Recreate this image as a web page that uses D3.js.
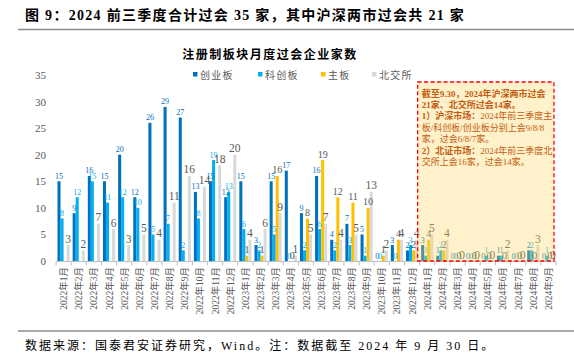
<!DOCTYPE html>
<html><head><meta charset="utf-8">
<script src="https://cdn.jsdelivr.net/npm/d3@7"></script>
<style>body{margin:0;background:#fff}svg{display:block}</style>
</head><body>
<svg id="c" width="574" height="359"></svg>
<script>
const months = ["2022年1月","2022年2月","2022年3月","2022年4月","2022年5月","2022年6月","2022年7月","2022年8月","2022年9月","2022年10月","2022年11月","2022年12月",
"2023年1月","2023年2月","2023年3月","2023年4月","2023年5月","2023年6月","2023年7月","2023年8月","2023年9月","2023年10月","2023年11月","2023年12月",
"2024年1月","2024年2月","2024年3月","2024年4月","2024年5月","2024年6月","2024年7月","2024年8月","2024年9月"];
const chuangye = [15,9,16,15,20,12,26,29,27,13,15,12, 15,3,15,17,9,16,4,7,5,0,3,2, 3,1,0,0,0,1,0,2,0];
const kechuang = [8,12,15,11,12,10,5,7,2,8,19,13, 6,2,5,0,2,6,2,3,1,0,0,3, 1,2,0,0,1,1,0,2,1];
const zhuban = [null,null,null,null,null,null,null,null,null,null,null,null, 1,1,16,0,8,19,12,11,10,1,4,2, 4,2,0,0,0,0,0,0,0];
const beijiao = [3,2,7,6,3,5,4,11,16,14,18,20, 4,6,9,1,5,7,4,5,13,2,4,4, 5,4,0,0,0,2,0,3,0];
const seriesNames = ["创业板","科创板","主板","北交所"];
const colors = ["#0070C0","#00B0F0","#FFC000","#D9D9D9"];
const labelColors = ["#0070C0","#00B0F0","#595959","#595959"];
const labelSizes = [8,8,10,11.5];
const yTicks = [0,5,10,15,20,25,30,35];
const noteLines = [
  [["截至9.30，2024年沪深两市过会",true]],
  [["21家、北交所过会14家。",true]],
  [["1）沪深市场：",true],["2024年前三季度主",false]],
  [["板/科创板/创业板分别上会9/8/8",false]],
  [["家，过会6/8/7家。",false]],
  [["2）北证市场：",true],["2024年前三季度北",false]],
  [["交所上会16家，过会14家。",false]]
];

const svg = d3.select("#c");
const serif = "'Liberation Serif','Noto Sans CJK SC',serif";
const cjk = "'Liberation Serif','Noto Sans CJK SC',sans-serif";
const series = [chuangye, kechuang, zhuban, beijiao];

// header
svg.append("text").attr("x",25).attr("y",20).attr("font-family",cjk).attr("font-weight","bold")
  .attr("font-size",14).attr("letter-spacing",1.3).attr("fill","#000").text("图 9：2024 前三季度合计过会 35 家，其中沪深两市过会共 21 家");
svg.append("line").attr("x1",18).attr("x2",574).attr("y1",29.5).attr("y2",29.5).attr("stroke","#8c8c8c").attr("stroke-width",1.5);
svg.append("line").attr("x1",18).attr("x2",574).attr("y1",331).attr("y2",331).attr("stroke","#8c8c8c").attr("stroke-width",1.5);
svg.append("text").attr("x",25).attr("y",350).attr("font-family",cjk).attr("font-size",12).attr("letter-spacing",2)
  .attr("fill","#000").text("数据来源：国泰君安证券研究，Wind。注：数据截至 2024 年 9 月 30 日。");

// chart title
svg.append("text").attr("x",270).attr("y",59).attr("text-anchor","middle").attr("font-family",cjk)
  .attr("font-weight","bold").attr("font-size",12).attr("letter-spacing",1.5).attr("fill","#000")
  .text("注册制板块月度过会企业家数");

const x = d3.scaleBand().domain(months).range([56,556]).paddingInner(0.2).paddingOuter(0.1);
const xs = d3.scaleBand().domain(d3.range(4)).range([0,x.bandwidth()]);
const y = d3.scaleLinear().domain([0,35]).range([261,75]);

// legend
const legX = [193,258,321,372];
seriesNames.forEach((n,i)=>{
  svg.append("rect").attr("x",legX[i]).attr("y",72).attr("width",4.5).attr("height",4.5).attr("fill",colors[i]);
  svg.append("text").attr("x",legX[i]+7).attr("y",78.5).attr("font-family",cjk).attr("font-size",10)
    .attr("letter-spacing",1.2).attr("fill","#595959").text(n);
});

// y axis labels
svg.selectAll(".yt").data(yTicks).enter().append("text")
  .attr("x",46).attr("y",d=>y(d)+4).attr("text-anchor","end").attr("font-family",serif)
  .attr("font-size",11).attr("fill","#595959").text(d=>d);

// bars
const g = svg.append("g");
series.forEach((arr,si)=>{
  const data = months.map((m,i)=>({m, v:arr[i]})).filter(d=>d.v!==null);
  g.selectAll(".b"+si).data(data).enter().append("rect")
    .attr("x",d=>x(d.m)+xs(si)).attr("width",xs.bandwidth())
    .attr("y",d=>y(d.v)).attr("height",d=>y(0)-y(d.v)).attr("fill",colors[si]);
});
series.forEach((arr,si)=>{
  const data = months.map((m,i)=>({m, v:arr[i]})).filter(d=>d.v!==null);
  g.selectAll(".l"+si).data(data).enter().append("text")
    .attr("x",d=>x(d.m)+xs(si)+xs.bandwidth()/2).attr("y",d=>y(d.v)-2.5)
    .attr("text-anchor","middle").attr("font-family",serif).attr("font-size",labelSizes[si])
    .attr("fill",labelColors[si]).text(d=>d.v);
});

// x axis
svg.append("line").attr("x1",56).attr("x2",556).attr("y1",261.5).attr("y2",261.5).attr("stroke","#bfbfbf").attr("stroke-width",1);
const bounds = months.map(m=>x(m)-x.step()*x.paddingInner()/2).concat([556]);
svg.selectAll(".tk").data(bounds).enter().append("line")
  .attr("x1",d=>d).attr("x2",d=>d).attr("y1",261.5).attr("y2",265.5).attr("stroke","#bfbfbf");
svg.selectAll(".xl").data(months).enter().append("text")
  .attr("transform",d=>`translate(${x(d)+x.bandwidth()/2+3.5},267) rotate(-90)`)
  .attr("text-anchor","end").attr("font-family",cjk).attr("font-size",9.5).attr("fill","#595959").text(d=>d);

// annotation box over 2024
const bx0 = x("2024年1月") - x.step()*x.paddingInner()/2 - 2;
const bx1 = 554;
svg.append("rect").attr("x",bx0).attr("y",82).attr("width",bx1-bx0).attr("height",y(0)-82)
  .attr("fill","#FFD75E").attr("fill-opacity",0.33);
svg.append("rect").attr("x",bx0).attr("y",82).attr("width",bx1-bx0).attr("height",y(0)-82)
  .attr("fill","none").attr("stroke","#FF0000").attr("stroke-width",1.3).attr("stroke-dasharray","4,2.5");
noteLines.forEach((line,i)=>{
  const t = svg.append("text").attr("x",bx0+4).attr("y",96.5+i*11.4).attr("font-family",cjk)
    .attr("font-size",9).attr("letter-spacing",0).attr("fill","#C55A11");
  line.forEach(([s,b])=>t.append("tspan").attr("font-weight",b?"bold":"normal").text(s));
});
</script>
</body></html>
